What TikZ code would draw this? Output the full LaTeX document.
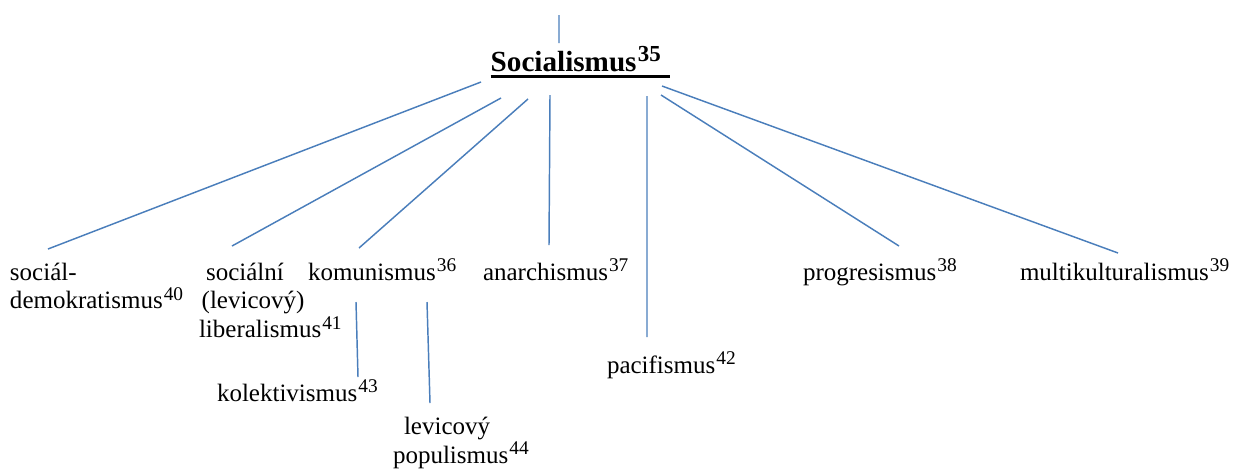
\documentclass[tikz,border=0pt]{standalone}
\usepackage{fontspec}
\setmainfont{Liberation Serif}
\usetikzlibrary{calc}
\newcommand\fnr[1]{\hspace{0.5pt}\raisebox{4pt}{\fontsize{9.3}{9.3}\selectfont #1}}
\newcommand\fnrb[1]{\hspace{0.6pt}\raisebox{5pt}{\fontsize{11}{11}\selectfont\bfseries #1}}
\tikzset{
  lbl/.style={inner sep=0pt, outer sep=0pt, anchor=base west, align=left,
    font=\fontsize{12}{13.8}\selectfont},
  conn/.style={draw=linkblue, line width=0.7pt},
}
\definecolor{linkblue}{HTML}{4A7EBB}
\begin{document}
\begin{tikzpicture}[x=0.48pt, y=-0.48pt]
\useasboundingbox (0,0) rectangle (1240,469);
% root
\node[lbl, font=\fontsize{14}{16}\selectfont\bfseries] (soc) at (490.7,71.7) {Socialismus\fnrb{35}};
\draw[line width=1.6pt] ($(soc.base west)+(0,5)$) -- ($(soc.base east)+(9,5)$);
\coordinate (topend) at (559,15);
\draw[conn] (topend) -- ($(soc.base west)+(68.3,-28.7)$);
% children (multi-line nodes: base = baseline of last line)
\node[lbl] (sd) at (10,308.75) {sociál-\\demokratismus\fnr{40}};
\node[lbl] (sl) at (199,337.5) {\hspace*{3.4pt}sociální\\\hspace*{1.3pt}(levicový)\\liberalismus\fnr{41}};
\node[lbl] (kom) at (308,280) {komunismus\fnr{36}};
\node[lbl] (ana) at (483,280) {anarchismus\fnr{37}};
\node[lbl] (pro) at (803,280) {progresismus\fnr{38}};
\node[lbl] (mul) at (1020,280) {multikulturalismus\fnr{39}};
\node[lbl] (pac) at (607,373) {pacifismus\fnr{42}};
\node[lbl] (kol) at (217,401) {kolektivismus\fnr{43}};
\node[lbl] (pop) at (393,463) {\hspace*{5.3pt}levicový\\populismus\fnr{44}};
% connectors
\draw[conn] ($(soc.base west)+(-9.7,10.3)$) -- ($(sd.base west)+(38,-59.75)$);
\draw[conn] ($(soc.base west)+(10.3,26.3)$) -- ($(sl.base west)+(33,-91.5)$);
\draw[conn] ($(soc.base west)+(37.3,27.3)$) -- ($(kom.base west)+(51,-32)$);
\draw[conn] ($(soc.base west)+(59.3,23.3)$) -- ($(ana.base west)+(66,-35)$);
\draw[conn] ($(soc.base west)+(156.3,24.3)$) -- ($(pac.base west)+(40,-36)$);
\draw[conn] ($(soc.base west)+(170.3,23.3)$) -- ($(pro.base west)+(96,-34)$);
\draw[conn] ($(soc.base west)+(171.3,14.3)$) -- ($(mul.base west)+(98,-27)$);
\draw[conn] ($(kom.base west)+(48,22)$) -- ($(kol.base west)+(141,-24)$);
\draw[conn] ($(kom.base west)+(119,22)$) -- ($(pop.base west)+(37,-60)$);
\end{tikzpicture}
\end{document}
